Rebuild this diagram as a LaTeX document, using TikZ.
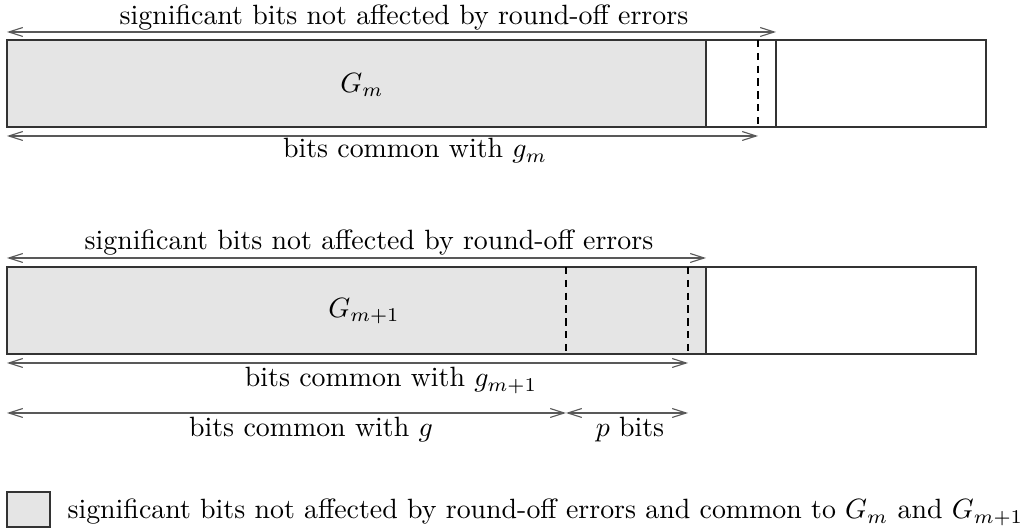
\documentclass[tikz,border=0pt]{standalone}
\usetikzlibrary{arrows.meta}
\tikzset{
  dimline/.style={draw=black!65, >={Straight Barb[length=5pt,width=3.2pt]}, <->},
  bitbar/.style={draw=black!80},
  cutmark/.style={line width=0.6pt, dash pattern=on 2.6pt off 2pt},
  shadebits/.style={fill=black!10},
  lbl/.style={anchor=base, inner sep=0pt},
}

\begin{document}
\begin{tikzpicture}[x=0.0126cm, y=-0.0126cm]
		%%%%% START %%%%%
		\useasboundingbox (0, 0) rectangle (1026, 531);
		
		% word G_m
		\fill[shadebits] (7, 40) rectangle (706, 127);
		\draw[bitbar] (7, 40) rectangle (986, 127);
		\draw[bitbar] (706, 40) -- (706, 127);
		\draw[bitbar] (776, 40) -- (776, 127);
		\draw[cutmark] (758, 40) -- (758, 127);
		\node (gm) at (362, 85) {$G_m$};
		
		\coordinate (t1a) at (7, 32);
		\coordinate (t1b) at (776, 32);
		\draw[dimline] (t1a) -- (t1b);
		\node[lbl] (sig1) at (404, 25) {significant bits not affected by round-off errors};
		
		\coordinate (c1a) at (7, 136);
		\coordinate (c1b) at (758, 136);
		\draw[dimline] (c1a) -- (c1b);
		\node[lbl] (com1) at (415, 158) {bits common with $g_m$};
		
		% word G_{m+1}
		\fill[shadebits] (7, 267) rectangle (706, 354);
		\draw[bitbar] (7, 267) rectangle (976, 354);
		\draw[bitbar] (706, 267) -- (706, 354);
		\draw[cutmark] (566, 267) -- (566, 354);
		\draw[cutmark] (688, 267) -- (688, 354);
		\node (gmm) at (364, 311) {$G_{m+1}$};
		
		\coordinate (t2a) at (7, 258);
		\coordinate (t2b) at (706, 258);
		\draw[dimline] (t2a) -- (t2b);
		\node[lbl] (sig2) at (369, 250) {significant bits not affected by round-off errors};
		
		\coordinate (c2a) at (7, 363);
		\coordinate (c2b) at (688, 363);
		\draw[dimline] (c2a) -- (c2b);
		\node[lbl] (com2) at (391, 387) {bits common with $g_{m+1}$};
		
		\coordinate (g3a) at (7, 413);
		\coordinate (g3b) at (566, 413);
		\coordinate (g3c) at (688, 413);
		\draw[dimline] (g3a) -- (g3b);
		\draw[dimline] (g3b) -- (g3c);
		\node[lbl] (comg) at (311, 437) {bits common with $g$};
		\node[lbl] (pbits) at (630, 437) {$p$ bits};
		
		% legend
		\draw[bitbar, shadebits] (7, 492) rectangle (50, 527);
		\node[lbl, anchor=base west] (key) at (67, 519) {significant bits not affected by round-off errors and common to $G_m$ and $G_{m+1}$};
		
		%%%%% END %%%%%
\end{tikzpicture}
\end{document}
